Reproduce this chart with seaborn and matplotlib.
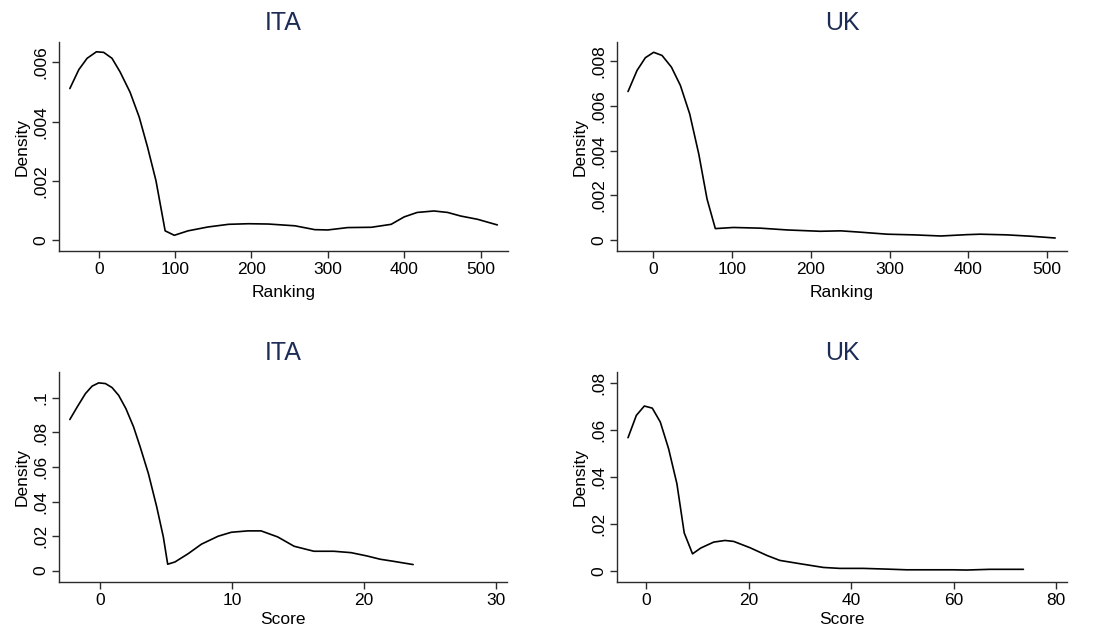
import numpy as np
import pandas as pd
import matplotlib
matplotlib.use("Agg")
import matplotlib.pyplot as plt
import seaborn as sns

# ---------------- data ----------------
ita_rank_x = [-37.8, -26, -15.2, -3, 6.5, 17.4, 28, 41, 53, 64, 75, 87, 99, 117, 143, 170,
              196, 222, 257, 283, 300, 326, 357, 383, 400, 417, 439, 457, 474, 496, 522]
ita_rank_y = [0.00512, 0.00576, 0.00614, 0.00636, 0.00634, 0.00614, 0.00568, 0.00500, 0.00416,
              0.00314, 0.00201, 0.00032, 0.00017, 0.00032, 0.00045, 0.00054, 0.00056, 0.00055,
              0.00049, 0.00036, 0.00035, 0.00043, 0.00044, 0.00054, 0.00079, 0.00094, 0.00099,
              0.00094, 0.00082, 0.00071, 0.00052]

uk_rank_x = [-31.7, -20.3, -9.7, 0.8, 11.4, 23.3, 34.7, 46.5, 58, 68.5, 79, 102, 136, 170,
             212, 238, 263, 297, 331, 365, 398, 415, 449, 479, 510]
uk_rank_y = [0.00664, 0.00758, 0.00815, 0.00839, 0.00825, 0.00773, 0.00691, 0.00564, 0.00385,
             0.00184, 0.00052, 0.00057, 0.00054, 0.00046, 0.00040, 0.00042, 0.00036, 0.00027,
             0.00024, 0.00019, 0.00025, 0.00027, 0.00024, 0.00018, 0.00010]

ita_score_x = [-2.26, -1.7, -1.08, -0.58, -0.08, 0.43, 0.93, 1.43, 1.98, 2.56, 3.06, 3.68, 4.31,
               4.81, 5.14, 5.69, 6.69, 7.69, 8.95, 9.95, 11.2, 12.2, 13.46, 14.7, 16.2, 17.7,
               19.0, 20.2, 21.2, 22.2, 23.7]
ita_score_y = [0.0875, 0.0948, 0.1025, 0.1068, 0.1087, 0.1083, 0.1060, 0.1015, 0.0938, 0.0832,
               0.0716, 0.0562, 0.0369, 0.0195, 0.0037, 0.0050, 0.0098, 0.0153, 0.0199, 0.0222,
               0.0230, 0.0230, 0.0195, 0.0141, 0.0112, 0.0112, 0.0104, 0.0085, 0.0066, 0.0054,
               0.0035]

uk_score_x = [-3.5, -1.88, -0.32, 1.23, 2.79, 4.41, 6.03, 7.46, 9.08, 10.7, 13.2, 15.4, 17.1,
              20.3, 23.6, 26.1, 30.0, 34.6, 37.8, 42.4, 46.9, 50.8, 56.0, 59.9, 62.5, 67.0, 73.6]
uk_score_y = [0.0567, 0.0662, 0.0702, 0.0693, 0.0634, 0.0520, 0.0371, 0.0161, 0.0072, 0.0097,
              0.0122, 0.0129, 0.0125, 0.0098, 0.0065, 0.0044, 0.0030, 0.0014, 0.0010, 0.0010,
              0.0007, 0.0004, 0.0004, 0.0004, 0.0003, 0.0006, 0.0006]

titles = ["ITA", "UK", "ITA", "UK"]
x_labels = ["Ranking", "Ranking", "Score", "Score"]
y_label = "Density"

rank_xticks = [0, 100, 200, 300, 400, 500]
rank_xticklabels = ["0", "100", "200", "300", "400", "500"]
ita_rank_yticks = [0, 0.002, 0.004, 0.006]
ita_rank_yticklabels = ["0", ".002", ".004", ".006"]
uk_rank_yticks = [0, 0.002, 0.004, 0.006, 0.008]
uk_rank_yticklabels = ["0", ".002", ".004", ".006", ".008"]
ita_score_xticks = [0, 10, 20, 30]
ita_score_xticklabels = ["0", "10", "20", "30"]
ita_score_yticks = [0, 0.02, 0.04, 0.06, 0.08, 0.1]
ita_score_yticklabels = ["0", ".02", ".04", ".06", ".08", ".1"]
uk_score_xticks = [0, 20, 40, 60, 80]
uk_score_xticklabels = ["0", "20", "40", "60", "80"]
uk_score_yticks = [0, 0.02, 0.04, 0.06, 0.08]
uk_score_yticklabels = ["0", ".02", ".04", ".06", ".08"]

# ---------------- style ----------------
sns.set_theme(style="white")
plt.rcParams["font.family"] = ["Liberation Sans", "DejaVu Sans"]
plt.rcParams["text.color"] = "black"
plt.rcParams["axes.labelcolor"] = "black"
plt.rcParams["xtick.color"] = "black"
plt.rcParams["ytick.color"] = "black"

fig = plt.figure(figsize=(10.94, 6.30), dpi=100)

W, H = 1094.0, 630.0
def rect(l, r, t, b):
    return [l / W, (H - b) / H, (r - l) / W, (b - t) / H]

panels = [
    dict(rect=rect(59, 508, 42, 251), x=ita_rank_x, y=ita_rank_y,
         xlim=(-52, 536), ylim=(-0.00036, 0.00669), xpad=5.5,
         xt=rank_xticks, xtl=rank_xticklabels, yt=ita_rank_yticks, ytl=ita_rank_yticklabels),
    dict(rect=rect(617, 1067, 42, 251), x=uk_rank_x, y=uk_rank_y,
         xlim=(-45.7, 525), ylim=(-0.00048, 0.00885), xpad=5.5,
         xt=rank_xticks, xtl=rank_xticklabels, yt=uk_rank_yticks, ytl=uk_rank_yticklabels),
    dict(rect=rect(59, 507, 372, 582), x=ita_score_x, y=ita_score_y,
         xlim=(-3.08, 30.8), ylim=(-0.0066, 0.115), xpad=3,
         xt=ita_score_xticks, xtl=ita_score_xticklabels, yt=ita_score_yticks, ytl=ita_score_yticklabels),
    dict(rect=rect(617, 1067, 372, 582), x=uk_score_x, y=uk_score_y,
         xlim=(-5.65, 82.1), ylim=(-0.0048, 0.0847), xpad=3,
         xt=uk_score_xticks, xtl=uk_score_xticklabels, yt=uk_score_yticks, ytl=uk_score_yticklabels),
]

title_color = "#1c2c54"
axis_color = "#2b2b2b"

for i, p in enumerate(panels):
    ax = fig.add_axes(p["rect"])
    df = pd.DataFrame({"x": p["x"], "y": p["y"]})
    sns.lineplot(data=df, x="x", y="y", ax=ax, color="black", linewidth=1.2, sort=False)
    ax.set_xlim(*p["xlim"])
    ax.set_ylim(*p["ylim"])
    ax.set_xticks(p["xt"])
    ax.set_xticklabels(p["xtl"])
    ax.set_yticks(p["yt"])
    ax.set_yticklabels(p["ytl"], rotation=90, va="center")
    ax.set_xlabel(x_labels[i], fontsize=12.5, labelpad=p["xpad"], color="black")
    ax.set_ylabel(y_label, fontsize=12.5, labelpad=2, color="black")
    ax.set_title(titles[i], fontsize=18, color=title_color, pad=9)
    for s in ["top", "right"]:
        ax.spines[s].set_visible(False)
    for s in ["left", "bottom"]:
        ax.spines[s].set_color(axis_color)
        ax.spines[s].set_linewidth(1.0)
    ax.tick_params(axis="both", which="major", length=5, width=1.0, color=axis_color,
                   labelsize=12.5, labelcolor="black", pad=3, direction="out",
                   bottom=True, left=True)
    ax.grid(False)
    ax.set_facecolor("white")

fig.savefig("out.png", dpi=100, facecolor="white")
